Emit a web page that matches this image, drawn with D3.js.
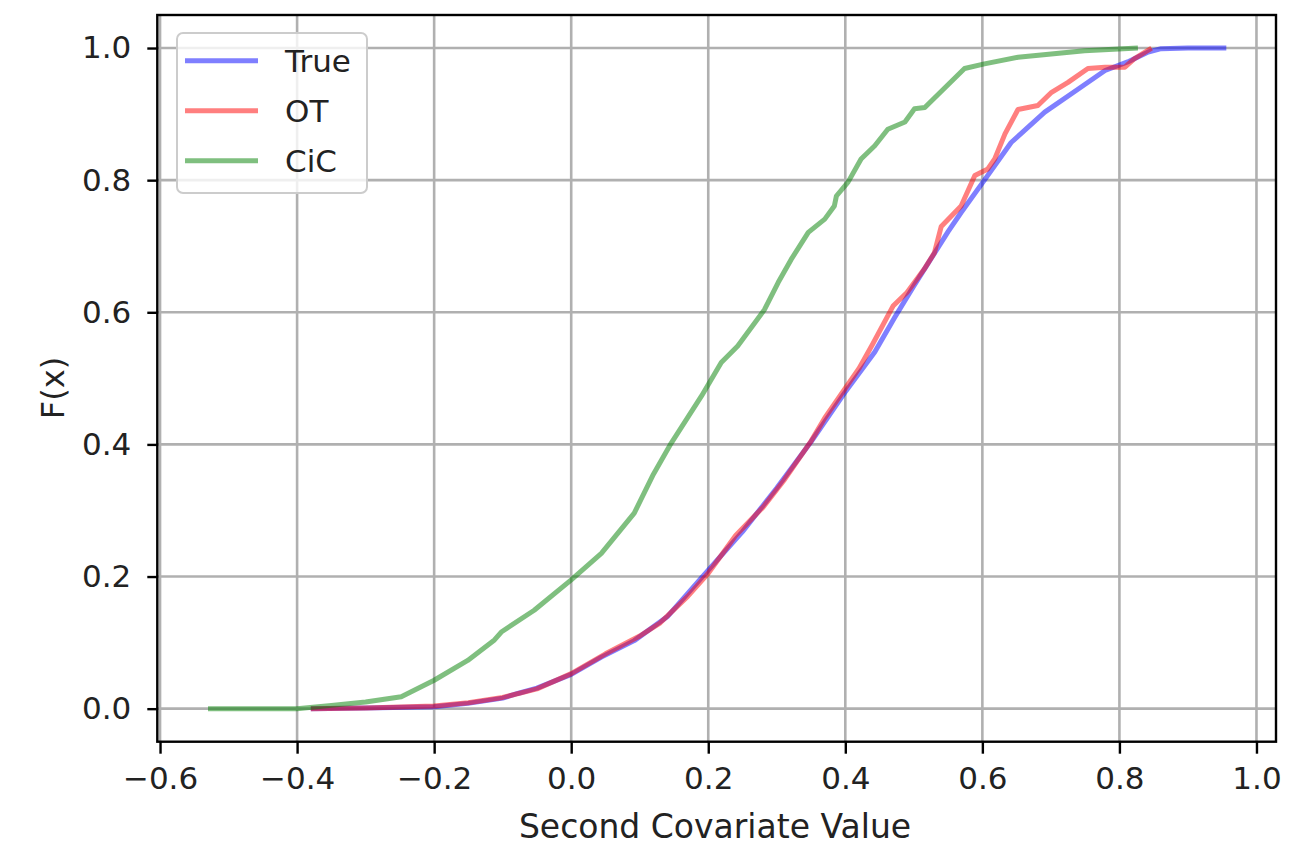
<!DOCTYPE html>
<html lang="en">
<head>
    <meta charset="UTF-8">
    <title>ECDF - Second Covariate</title>
    <script src="https://cdn.jsdelivr.net/npm/d3@7"></script>
    <style>
        body { margin: 0; background: #fff; }
        text { font-family: "DejaVu Sans", sans-serif; fill: #222; }
    </style>
</head>
<body>
    <script>
        // x value, F(x)
        const trueX = [-0.38, -0.3, -0.2, -0.151, -0.1, -0.078, -0.05, 0.0, 0.044, 0.092, 0.141, 0.19, 0.25, 0.3, 0.35, 0.399, 0.443, 0.472, 0.5, 0.55, 0.569, 0.603, 0.642, 0.691, 0.74, 0.779, 0.812, 0.842, 0.861, 0.9, 0.956];
        const trueF = [0, 0.001, 0.003, 0.008, 0.016, 0.023, 0.031, 0.052, 0.078, 0.103, 0.14, 0.198, 0.268, 0.334, 0.404, 0.478, 0.54, 0.592, 0.64, 0.722, 0.751, 0.8, 0.857, 0.903, 0.938, 0.966, 0.979, 0.994, 0.999, 1.0, 1.0];

        const otX = [-0.38, -0.3, -0.2, -0.15, -0.1, -0.05, 0.0, 0.05, 0.1, 0.13, 0.17, 0.2, 0.24, 0.28, 0.31, 0.35, 0.37, 0.4, 0.42, 0.44, 0.47, 0.49, 0.515, 0.53, 0.54, 0.569, 0.589, 0.608, 0.618, 0.633, 0.652, 0.681, 0.701, 0.725, 0.754, 0.779, 0.808, 0.822, 0.847];
        const otF = [0, 0.001, 0.004, 0.009, 0.017, 0.03, 0.053, 0.083, 0.11, 0.13, 0.17, 0.205, 0.262, 0.305, 0.345, 0.405, 0.44, 0.485, 0.515, 0.552, 0.61, 0.63, 0.665, 0.69, 0.73, 0.761, 0.807, 0.817, 0.832, 0.87, 0.907, 0.913, 0.933, 0.948, 0.969, 0.971, 0.971, 0.984, 1.0];

        const cicX = [-0.53, -0.4, -0.35, -0.3, -0.248, -0.2, -0.151, -0.112, -0.102, -0.054, 0.0, 0.044, 0.092, 0.12, 0.146, 0.19, 0.219, 0.243, 0.268, 0.282, 0.302, 0.321, 0.346, 0.37, 0.384, 0.387, 0.404, 0.423, 0.443, 0.462, 0.487, 0.501, 0.516, 0.574, 0.603, 0.652, 0.749, 0.827];
        const cicF = [0, 0, 0.005, 0.01, 0.018, 0.043, 0.073, 0.104, 0.116, 0.149, 0.195, 0.235, 0.296, 0.355, 0.402, 0.473, 0.524, 0.549, 0.584, 0.604, 0.645, 0.68, 0.721, 0.741, 0.761, 0.776, 0.797, 0.832, 0.852, 0.877, 0.888, 0.908, 0.91, 0.969, 0.976, 0.986, 0.996, 1.0];

        const seriesNames = ['True', 'OT', 'CiC'];
        const seriesColors = ['#0000ff', '#ff0000', '#008000'];
        const xTicks = [-0.6, -0.4, -0.2, 0.0, 0.2, 0.4, 0.6, 0.8, 1.0];
        const yTicks = [0.0, 0.2, 0.4, 0.6, 0.8, 1.0];

        const width = 1291, height = 855;
        const plotLeft = 157.3, plotRight = 1276, plotTop = 15, plotBottom = 741.7;
        const fontSize = 31;

        const svg = d3.select('body').append('svg')
            .attr('width', width)
            .attr('height', height);

        const x = d3.scaleLinear().domain([-0.604, 1.0285]).range([plotLeft, plotRight]);
        const y = d3.scaleLinear().domain([-0.05, 1.05]).range([plotBottom, plotTop]);
        const fmt = d3.format('.1f');

        // grid
        svg.append('g').selectAll('line').data(xTicks).enter().append('line')
            .attr('x1', d => x(d)).attr('x2', d => x(d))
            .attr('y1', plotTop).attr('y2', plotBottom)
            .attr('stroke', '#b0b0b0').attr('stroke-width', 2.6);
        svg.append('g').selectAll('line').data(yTicks).enter().append('line')
            .attr('x1', plotLeft).attr('x2', plotRight)
            .attr('y1', d => y(d)).attr('y2', d => y(d))
            .attr('stroke', '#b0b0b0').attr('stroke-width', 2.6);

        // curves
        const allData = [
            trueX.map((v, i) => [v, trueF[i]]),
            otX.map((v, i) => [v, otF[i]]),
            cicX.map((v, i) => [v, cicF[i]])
        ];
        const line = d3.line().x(d => x(d[0])).y(d => y(d[1]));
        svg.append('g').selectAll('path').data(allData).enter().append('path')
            .attr('d', line)
            .attr('fill', 'none')
            .attr('stroke', (d, i) => seriesColors[i])
            .attr('stroke-opacity', 0.5)
            .attr('stroke-width', 5)
            .attr('stroke-linejoin', 'round');

        // axes
        const xAxis = svg.append('g').attr('transform', `translate(0,${plotBottom})`)
            .call(d3.axisBottom(x).tickValues(xTicks).tickFormat(fmt).tickSize(12).tickPadding(13));
        const yAxis = svg.append('g').attr('transform', `translate(${plotLeft},0)`)
            .call(d3.axisLeft(y).tickValues(yTicks).tickFormat(fmt).tickSize(10).tickPadding(16));
        [xAxis, yAxis].forEach(g => {
            g.select('.domain').remove();
            g.selectAll('line').attr('stroke', '#000').attr('stroke-width', 2.4);
            g.selectAll('text').attr('font-size', fontSize).attr('font-family', '"DejaVu Sans", sans-serif').attr('fill', '#222');
        });

        // frame
        svg.append('rect')
            .attr('x', plotLeft).attr('y', plotTop)
            .attr('width', plotRight - plotLeft).attr('height', plotBottom - plotTop)
            .attr('fill', 'none').attr('stroke', '#000').attr('stroke-width', 2.4);

        // labels
        svg.append('text')
            .attr('x', 715).attr('y', 838)
            .attr('text-anchor', 'middle')
            .attr('font-size', 33)
            .text('Second Covariate Value');
        svg.append('text')
            .attr('transform', 'translate(64,388) rotate(-90)')
            .attr('text-anchor', 'middle')
            .attr('font-size', 32)
            .text('F(x)');

        // legend
        const legend = svg.append('g');
        legend.append('rect')
            .attr('x', 177).attr('y', 33)
            .attr('width', 190).attr('height', 160)
            .attr('rx', 6)
            .attr('fill', '#fff').attr('fill-opacity', 0.8)
            .attr('stroke', '#cccccc').attr('stroke-width', 2);
        const item = legend.selectAll('.item').data(seriesNames).enter().append('g')
            .attr('class', 'item')
            .attr('transform', (d, i) => `translate(0,${60.7 + i * 50})`);
        item.append('line')
            .attr('x1', 185).attr('x2', 258)
            .attr('stroke', (d, i) => seriesColors[i])
            .attr('stroke-opacity', 0.5)
            .attr('stroke-width', 5);
        item.append('text')
            .attr('x', 285).attr('dy', '0.35em')
            .attr('font-size', fontSize)
            .text(d => d);
    </script>
</body>
</html>
